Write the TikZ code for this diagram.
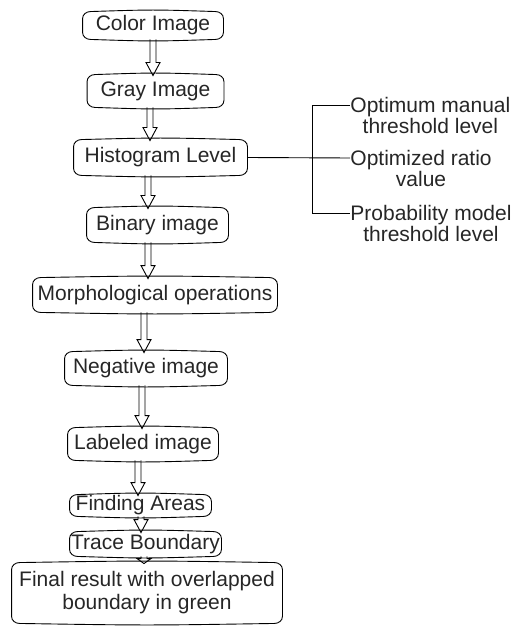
\documentclass[tikz,border=0pt]{standalone}
\usepackage{fontspec}
\setmainfont{Liberation Sans}
\usetikzlibrary{calc}
\newcommand\boxoutline[1]{%
  \draw ([yshift=-7pt]#1.north west) to[out=90,in=180] ([xshift=8pt]#1.north west)
    .. controls ([yshift=2pt]#1.north) .. ([xshift=-8pt]#1.north east)
    to[out=0,in=90] ([yshift=-7pt]#1.north east) -- ([yshift=7pt]#1.south east)
    to[out=-90,in=0] ([xshift=-8pt]#1.south east)
    .. controls ([yshift=-2pt]#1.south) .. ([xshift=8pt]#1.south west)
    to[out=180,in=-90] ([yshift=7pt]#1.south west) -- cycle;}
\newcommand\blockarr[3]{%
  \draw let \p1=(#2.south), \p2=(#3.north), \n1={\y1-\y2+1pt}, \n2={min(13pt,max(0.7*\n1,\n1-2.5pt))} in
    ({#1pt-3pt},\y1) -- ({#1pt-3pt},{\y2-1pt+\n2}) -- ({#1pt-7pt},{\y2-1pt+\n2}) -- (#1pt,{\y2-1pt})
    -- ({#1pt+7pt},{\y2-1pt+\n2}) -- ({#1pt+3pt},{\y2-1pt+\n2}) -- ({#1pt+3pt},\y1);}
\begin{document}
\begin{tikzpicture}[x=1pt,y=1pt,line width=0.9pt,
  flowbox/.style={inner sep=0pt, align=center, font=\fontsize{21}{23}\selectfont, text=black!85},
  sidetext/.style={inner sep=0pt, align=center, anchor=north west, font=\fontsize{21}{19}\selectfont, text=black!85}]
\useasboundingbox (0,0) rectangle (516,-628);
\node[flowbox, minimum width=140pt, minimum height=27pt] (color) at (153,-25.5) {Color Image};
\node[flowbox, minimum width=136pt, minimum height=32pt] (gray) at (155.5,-91) {Gray Image};
\node[flowbox, minimum width=173pt, minimum height=35pt] (hist) at (160.5,-157.5) {Histogram Level};
\node[flowbox, minimum width=141pt, minimum height=34pt] (binary) at (157.5,-225) {Binary image};
\node[flowbox, minimum width=244pt, minimum height=34pt] (morph) at (155,-295) {Morphological operations};
\node[flowbox, minimum width=162pt, minimum height=33pt] (neg) at (146,-368.5) {Negative image};
\node[flowbox, minimum width=150pt, minimum height=32pt] (lab) at (143,-444) {Labeled image};
\node[flowbox, minimum width=141pt, minimum height=21pt] (find) at (140.5,-505.5) {Finding Areas};
\node[flowbox, minimum width=151pt, minimum height=24pt] (trace) at (145.5,-544) {Trace Boundary};
\node[flowbox, minimum width=270pt, minimum height=60pt] (final) at (147,-593) {Final result with overlapped\\boundary in green};
\foreach \n in {color,gray,hist,binary,morph,neg,lab,find,trace,final}{\boxoutline{\n}}
\blockarr{153}{color}{gray}
\blockarr{150}{gray}{hist}
\blockarr{148}{hist}{binary}
\blockarr{148}{binary}{morph}
\blockarr{144}{morph}{neg}
\blockarr{142}{neg}{lab}
\blockarr{138}{lab}{find}
\blockarr{141}{find}{trace}
\blockarr{144}{trace}{final}
% side branches
\coordinate (e1) at (350,-105);
\coordinate (e2) at (350,-158);
\coordinate (e3) at (350,-213);
\coordinate (jb) at (312,-213);
\node[sidetext] (t1) at (350,-97) {Optimum manual\\threshold level};
\node[sidetext] (t2) at (350,-150) {Optimized ratio\\value};
\node[sidetext] (t3) at (350,-205) {Probability model\\threshold level};
\draw (hist.east) -- (e2);
\draw (e1) -| (jb) -- (e3);
\end{tikzpicture}
\end{document}
